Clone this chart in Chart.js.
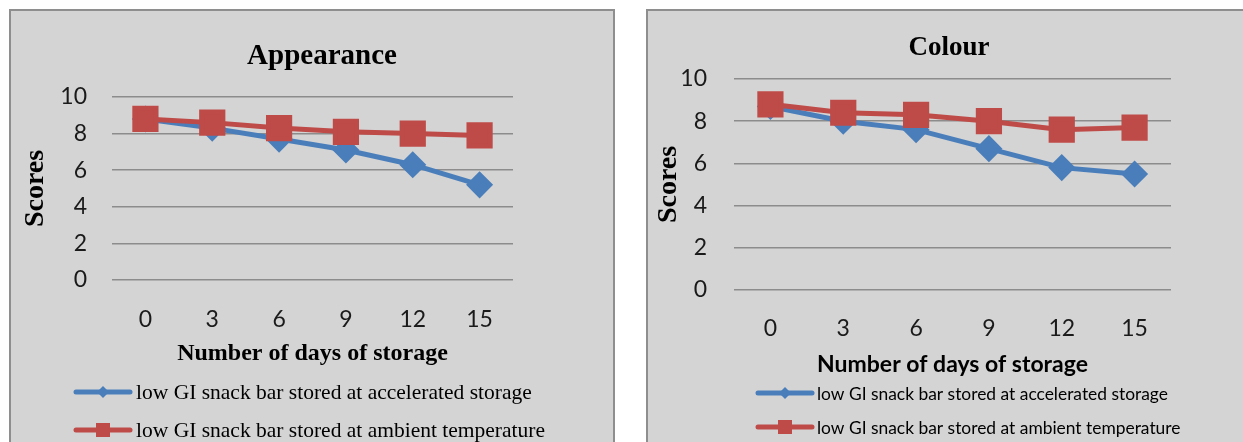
<!DOCTYPE html>
<html>
<head>
<meta charset="utf-8">
<script src="https://cdn.jsdelivr.net/npm/chart.js@4.4.0/dist/chart.umd.min.js"></script>
<style>
    html, body { margin: 0; padding: 0; background: #fff; width: 1243px; height: 442px; overflow: hidden; }
    .panel { position: absolute; top: 9px; height: 460px; background: #d4d4d4; border: 2px solid #8e8e8e; }
    #panel1 { left: 9px; width: 602px; }
    #panel2 { left: 646px; width: 620px; }
    .wrap { position: absolute; top: 11px; }
    #wrap1 { left: 11px; }
    #wrap2 { left: 648px; }
</style>
</head>
<body>
<div class="panel" id="panel1"></div>
<div class="panel" id="panel2"></div>
<div class="wrap" id="wrap1"><canvas id="appearance" width="622" height="431"></canvas></div>
<div class="wrap" id="wrap2"><canvas id="colour" width="602" height="431"></canvas></div>
<script>
const days = ['0', '3', '6', '9', '12', '15'];
const yTicks = [0, 2, 4, 6, 8, 10];
const seriesNames = [
    'low GI snack bar stored at accelerated storage',
    'low GI snack bar stored at ambient temperature'
];
const appearanceAccelerated = [8.8, 8.3, 7.7, 7.1, 6.3, 5.2];
const appearanceAmbient = [8.8, 8.6, 8.3, 8.1, 8.0, 7.9];
const colourAccelerated = [8.7, 8.0, 7.6, 6.7, 5.8, 5.5];
const colourAmbient = [8.8, 8.4, 8.3, 8.0, 7.6, 7.7];

const BLUE = '#4a7ebb';
const RED = '#be4b48';
const GRID = '#8c8c8c';
const SERIF = 'Liberation Serif';
const SANS = 'Lato';

// 선 + 마커 모양의 범례 (Excel 스타일)
const lineLegend = {
    id: 'lineLegend',
    afterDraw(chart, args, opts) {
        const ctx = chart.ctx;
        ctx.save();
        chart.data.datasets.forEach((ds, i) => {
            const y = opts.rows[i];
            const x0 = opts.x;
            const x1 = opts.x + opts.lineLen;
            const cx = (x0 + x1) / 2;
            ctx.strokeStyle = ds.borderColor;
            ctx.lineWidth = 5;
            ctx.lineCap = 'round';
            ctx.beginPath();
            ctx.moveTo(x0, y);
            ctx.lineTo(x1, y);
            ctx.stroke();
            ctx.fillStyle = ds.borderColor;
            ctx.beginPath();
            if (ds.pointStyle === 'rectRot') {
                ctx.moveTo(cx - 6, y);
                ctx.lineTo(cx, y - 6);
                ctx.lineTo(cx + 6, y);
                ctx.lineTo(cx, y + 6);
                ctx.closePath();
            } else {
                ctx.rect(cx - 7, y - 7, 14, 14);
            }
            ctx.fill();
            ctx.fillStyle = '#000';
            ctx.font = opts.font;
            ctx.textBaseline = 'middle';
            ctx.textAlign = 'left';
            ctx.fillText(ds.label, x1 + opts.gap, y + 1);
        });
        ctx.restore();
    }
};

/**
 * 차트 생성
 */
function createChart(canvasId, o) {
    return new Chart(document.getElementById(canvasId), {
        type: 'line',
        data: {
            labels: days,
            datasets: [{
                label: seriesNames[0],
                data: o.accelerated,
                borderColor: BLUE,
                backgroundColor: BLUE,
                pointBorderColor: BLUE,
                pointStyle: 'rectRot',
                pointRadius: 10,
                borderWidth: 5,
                tension: 0,
                order: 1
            }, {
                label: seriesNames[1],
                data: o.ambient,
                borderColor: RED,
                backgroundColor: RED,
                pointBorderColor: RED,
                pointStyle: 'rect',
                pointRadius: 15,
                borderWidth: 5,
                tension: 0,
                order: 0
            }]
        },
        options: {
            responsive: false,
            animation: false,
            events: [],
            layout: { padding: { left: 0, right: 0, top: 0, bottom: o.padBottom } },
            plugins: {
                legend: { display: false },
                tooltip: { enabled: false },
                title: {
                    display: true,
                    text: o.title,
                    color: '#000',
                    font: { family: SERIF, size: o.titleSize, weight: 'bold' },
                    padding: { top: o.titleTop, bottom: o.titleBottom }
                },
                lineLegend: o.legend
            },
            scales: {
                x: {
                    offset: true,
                    grid: { display: false },
                    border: { display: false },
                    ticks: { padding: o.xTickPad, color: '#1a1a1a', font: { family: SANS, size: 23 } },
                    title: {
                        display: true,
                        text: 'Number of days of storage',
                        color: '#000',
                        font: o.xTitleFont,
                        padding: { top: 0, bottom: 0 }
                    },
                    afterFit: s => { s.height = o.xHeight; }
                },
                y: {
                    min: 0,
                    max: 10,
                    grid: { color: GRID, lineWidth: 1.6, drawTicks: false },
                    border: { display: false },
                    ticks: { padding: o.yTickPad, color: '#1a1a1a', font: { family: SANS, size: 23 } },
                    afterBuildTicks: s => { s.ticks = yTicks.map(v => ({ value: v })); },
                    title: {
                        display: true,
                        text: 'Scores',
                        color: '#000',
                        font: { family: SERIF, size: o.yTitleSize, weight: 'bold' },
                        padding: { top: o.yTitlePad, bottom: 0 }
                    },
                    afterFit: s => { s.width = o.yWidth; }
                },
                y2: {
                    type: 'linear',
                    position: 'right',
                    grid: { display: false },
                    border: { display: false },
                    ticks: { display: false },
                    afterFit: s => { s.width = o.rightGap; }
                }
            }
        },
        plugins: [lineLegend]
    });
}

createChart('appearance', {
    title: 'Appearance',
    accelerated: appearanceAccelerated,
    ambient: appearanceAmbient,
    titleSize: 29, titleTop: 28, titleBottom: 23.2,
    yWidth: 101, yTickPad: 25, yTitleSize: 28, yTitlePad: 8.2,
    rightGap: 120,
    xTickPad: 18, xHeight: 88.4,
    xTitleFont: { family: SERIF, size: 24, weight: 'bold' },
    padBottom: 73.6,
    legend: { x: 65, rows: [381, 419], lineLen: 54, gap: 6, font: '21.5px "Liberation Serif"' }
});

createChart('colour', {
    title: 'Colour',
    accelerated: colourAccelerated,
    ambient: colourAmbient,
    titleSize: 27, titleTop: 20.5, titleBottom: 15.1,
    yWidth: 86, yTickPad: 27, yTitleSize: 28, yTitlePad: 4.2,
    rightGap: 79,
    xTickPad: 17, xHeight: 88.8,
    xTitleFont: { family: SANS, size: 23, weight: 'bold' },
    padBottom: 63.2,
    legend: { x: 110, rows: [382, 416], lineLen: 54, gap: 5, font: '17.4px Lato' }
});
</script>
</body>
</html>
